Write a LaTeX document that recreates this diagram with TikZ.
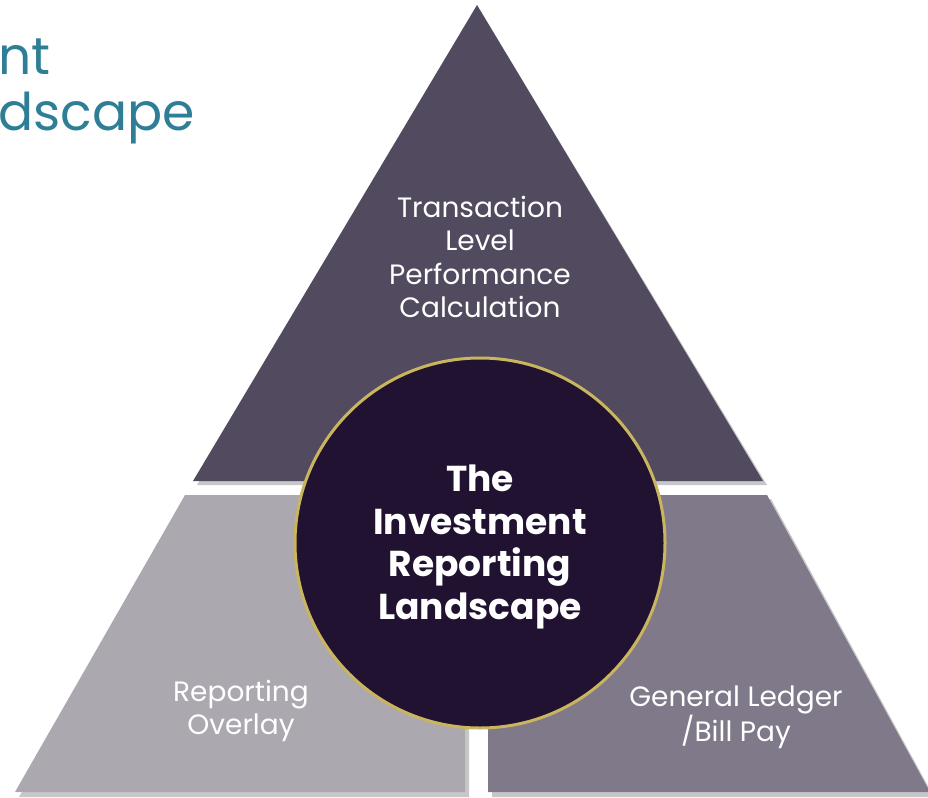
\documentclass[tikz,border=0pt]{standalone}
\usepackage{fontspec}
\setmainfont{Poppins}
\usepackage{tikz}
\definecolor{topclr}{HTML}{524A5E}
\definecolor{leftclr}{HTML}{ABA8B0}
\definecolor{rightclr}{HTML}{7F7989}
\definecolor{coreclr}{HTML}{201230}
\definecolor{goldclr}{HTML}{C9B55E}
\definecolor{titleclr}{HTML}{2E7F96}
\begin{document}
\begin{tikzpicture}[x=1pt,y=-1pt,
    shade/.style={fill=black,opacity=.22,draw=none},
    label/.style={text=white,align=center,font=\fontsize{28}{33.5}\selectfont},
    core/.style={circle,fill=coreclr,draw=goldclr,line width=3pt,minimum size=370pt},
    coretext/.style={text=white,align=center,font=\bfseries\fontsize{36}{42.5}\selectfont},
    title/.style={anchor=base west,inner sep=0,text=titleclr,font=\fontsize{52}{52}\selectfont}]
    \useasboundingbox (0,0) rectangle (928,797);
    \clip (0,0) rectangle (928,797);
    % shadows
    \fill[shade] (480,10) -- (767,485) -- (197,485) -- cycle;
    \fill[shade] (189,499) -- (469,499) -- (469,797) -- (19,797) -- cycle;
    \fill[shade] (492,499) -- (771,499) -- (934,797) -- (492,797) -- cycle;
    % pieces
    \fill[topclr] (477,5) -- (763,481) -- (193,481) -- cycle;
    \fill[leftclr] (185,495) -- (465,495) -- (465,792) -- (15,792) -- cycle;
    \fill[rightclr] (488,495) -- (767,495) -- (930,792) -- (488,792) -- cycle;
    % labels
    \node[label] (calc) at (480,257) {Transaction\\Level\\Performance\\Calculation};
    \node[label] (overlay) at (241,711) {Reporting\\Overlay};
    \node[label] (ledger) at (736,717) {General Ledger\\/Bill Pay};
    \node[core] (hub) at (480,543) {};
    \node[coretext] (hubtext) at (480,547) {The\\Investment\\Reporting\\Landscape};
    % title
    \node[title] (t1) at (-2,75) {nt};
    \node[title] (t2) at (-2,131) {dscape};
\end{tikzpicture}
\end{document}
